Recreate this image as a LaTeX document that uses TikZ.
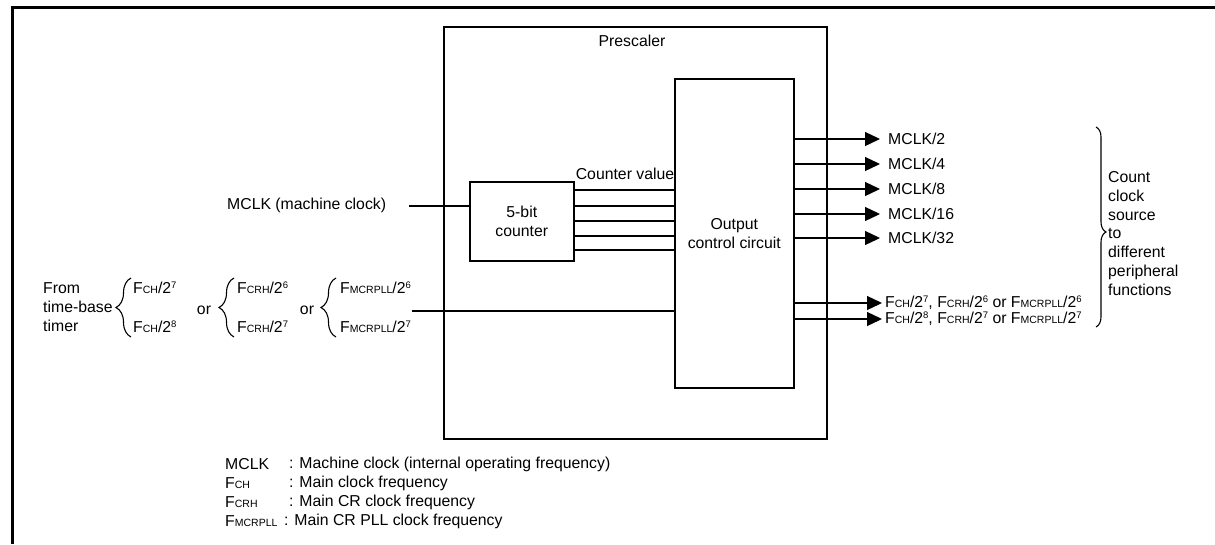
\documentclass[tikz,border=0pt]{standalone}
\usepackage{fontspec}
\setmainfont{Liberation Sans}
\usetikzlibrary{arrows.meta,decorations.pathreplacing}
\newcommand{\sbf}[1]{{\fontsize{10.5}{10.5}\selectfont #1}}
\newcommand{\spn}[1]{\raisebox{5pt}{\fontsize{9.5}{9.5}\selectfont #1}}
\begin{document}
\begin{tikzpicture}[x=1pt,y=-1pt,
  every node/.style={font=\fontsize{15.8}{18.8}\selectfont, inner sep=0pt},
  box/.style={draw, line width=1.6pt, anchor=north west},
  wire/.style={line width=1.3pt},
  arr/.style={wire, -{Triangle[length=15pt,width=14pt]}},
  brc/.style={decorate, decoration={brace, amplitude=15pt}, line width=1.1pt},
  rbrc/.style={decorate, decoration={brace, amplitude=10pt, aspect=0.525}, line width=1.1pt},
  lbl/.style={anchor=west}
]
\useasboundingbox (0,0) rectangle (1215,544);
% outer frame
\draw[line width=3.5pt] (12.5,544) -- (12.5,7.5) -- (1215,7.5);

% prescaler
\node[box, minimum width=383pt, minimum height=412pt] (pre) at (443,26) {};
\node (prel) at (632,41) {Prescaler};
\node[box, minimum width=119pt, minimum height=309pt, align=center] (occ) at (674,78) {Output\\control circuit};
\node[box, minimum width=104pt, minimum height=79pt, align=center] (cnt) at (469,181) {5-bit\\counter};
\node (cv) at (625,174) {Counter value};

\foreach \yy in {190,206,221,236,250}{
  \path (0,\yy) coordinate (h);
  \draw[wire] (cnt.east |- h) -- (occ.west |- h);
}

% MCLK input
\node[lbl] (mclk) at (227,205) {MCLK (machine clock)};
\coordinate (mclkin) at (409,206);
\draw[wire] (mclkin) -- (cnt.west |- mclkin);

% time-base input
\node[anchor=west, align=left] (from) at (43,307) {From\\time-base\\timer};
\draw[brc] (131,337) -- (131,278);
\node[anchor=west] (a1) at (133,288) {F\sbf{CH}/2\spn{7}};
\node[anchor=west] (a2) at (133,327) {F\sbf{CH}/2\spn{8}};
\node (or1) at (204,310) {or};
\draw[brc] (234,337) -- (234,278);
\node[anchor=west] (b1) at (237,288) {F\sbf{CRH}/2\spn{6}};
\node[anchor=west] (b2) at (237,327) {F\sbf{CRH}/2\spn{7}};
\node (or2) at (307,310) {or};
\draw[brc] (336,337) -- (336,278);
\node[anchor=west] (c1) at (340,288) {F\sbf{MCRPLL}/2\spn{6}};
\node[anchor=west] (c2) at (340,327) {F\sbf{MCRPLL}/2\spn{7}};
\coordinate (tb) at (412,311);
\draw[wire] (tb) -- (occ.west |- tb);

% outputs
\node[lbl, inner xsep=8pt] (o1) at (880,139) {MCLK/2};
\node[lbl, inner xsep=8pt] (o2) at (880,164) {MCLK/4};
\node[lbl, inner xsep=8pt] (o3) at (880,189) {MCLK/8};
\node[lbl, inner xsep=8pt] (o4) at (880,214) {MCLK/16};
\node[lbl, inner xsep=8pt] (o5) at (880,238) {MCLK/32};
\node[lbl, inner xsep=3pt] (o6) at (882,303) {F\sbf{CH}/2\spn{7}, F\sbf{CRH}/2\spn{6} or F\sbf{MCRPLL}/2\spn{6}};
\node[lbl, inner xsep=3pt] (o7) at (882,319) {F\sbf{CH}/2\spn{8}, F\sbf{CRH}/2\spn{7} or F\sbf{MCRPLL}/2\spn{7}};
\foreach \o in {o1,o2,o3,o4,o5,o6,o7}{
  \draw[arr] (occ.east |- \o.west) -- (\o.west);
}

% right brace
\draw[rbrc] (1096,127) -- (1096,327);
\node[anchor=west, align=left] (cc) at (1108,233.5) {Count\\clock\\source\\to\\different\\peripheral\\functions};

% legend
\node[lbl] (k1) at (225,464) {MCLK};
\node[lbl] (v1) at (289,464) {: Machine clock (internal operating frequency)};
\node[lbl] (k2) at (225,483) {F\sbf{CH}};
\node[lbl] (v2) at (289,483) {: Main clock frequency};
\node[lbl] (k3) at (225,502) {F\sbf{CRH}};
\node[lbl] (v3) at (289,502) {: Main CR clock frequency};
\node[lbl] (k4) at (225,521) {F\sbf{MCRPLL}};
\node[lbl] (v4) at (284,521) {: Main CR PLL clock frequency};
\end{tikzpicture}
\end{document}
